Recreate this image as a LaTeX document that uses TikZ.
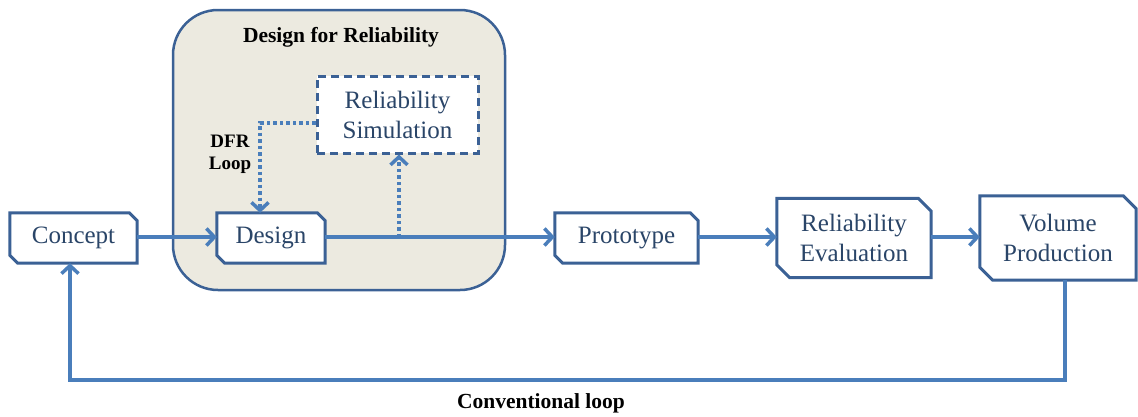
\documentclass[tikz,border=0pt]{standalone}
\usepackage{fontspec}
\setmainfont{Liberation Serif}[BoldFont={Liberation Serif Bold},ItalicFont={Liberation Serif Italic}]
\usetikzlibrary{arrows.meta,calc}
\definecolor{conn}{HTML}{4A7EBB}
\definecolor{boxln}{HTML}{3B6195}
\definecolor{txt}{HTML}{2A4568}
\definecolor{dfrfill}{HTML}{ECEAE0}
\pgfdeclarelayer{bg}
\pgfdeclarelayer{mid}
\pgfsetlayers{bg,mid,main}
\tikzset{
  snip/.style={draw=none,inner sep=0pt,align=center,text=txt,
    font=\fontsize{25}{30}\selectfont},
  snipline/.style={draw=boxln,line width=3pt,fill=white,line join=miter},
  flow/.style={draw=conn,line width=3.5pt,-{Straight Barb[length=8pt,width=17pt]}},
  dots/.style={draw=conn,line width=3.5pt,dash pattern=on 3.5pt off 3pt,
    -{Straight Barb[length=8pt,width=17pt]}},
  boldlbl/.style={font=\bfseries\fontsize{21.5}{26}\selectfont,text=black},
}
\newcommand{\snipdraw}[2]{%
  \draw[snipline] (#1.north west) -- ([xshift=-#2pt]#1.north east) -- ([yshift=-#2pt]#1.north east)
    -- (#1.south east) -- ([xshift=#2pt]#1.south west) -- ([yshift=#2pt]#1.south west) -- cycle;}
\begin{document}
\begin{tikzpicture}[x=1pt,y=-1pt]
\useasboundingbox (0,0) rectangle (1138,416);
% boxes
\node[snip,minimum width=127pt,minimum height=50pt] (C) at (73.5,238) {Concept};
\node[snip,minimum width=108pt,minimum height=50pt] (D) at (271,238) {Design};
\node[snip,minimum width=143pt,minimum height=50pt] (P) at (626.5,238) {Prototype};
\node[snip,minimum width=154pt,minimum height=79pt] (E) at (854,238) {Reliability\\Evaluation};
\node[snip,minimum width=156pt,minimum height=84pt] (V) at (1058,238) {Volume\\Production};
\begin{pgfonlayer}{bg}
% DFR container
\node[draw=boxln,line width=2.5pt,fill=dfrfill,rounded corners=45pt,
  minimum width=332pt,minimum height=280pt,inner sep=0pt] (dfr) at (339,150) {};
\end{pgfonlayer}
\node[boldlbl] (dfrt) at (341,37) {Design for Reliability};
\node[draw=boxln,line width=3pt,dash pattern=on 8pt off 5pt,fill=white,
  minimum width=161pt,minimum height=77pt,inner sep=0pt,align=center,text=txt,
  font=\fontsize{25}{30}\selectfont] (S) at (397.5,114.5) {Reliability\\Simulation};
\begin{pgfonlayer}{mid}
\snipdraw{C}{8}
\snipdraw{D}{8}
\snipdraw{P}{8}
\snipdraw{E}{13}
\snipdraw{V}{13}
\end{pgfonlayer}
% main flow
\draw[flow] (C.east |- 0,237) -- (D.west |- 0,237);
\draw[flow] (D.east |- 0,237) -- (P.west |- 0,237);
\draw[flow] (P.east |- 0,237) -- (E.west |- 0,237);
\draw[flow] (E.east |- 0,237) -- (V.west |- 0,237);
% dotted loops
\coordinate (tap) at (399,237);
\coordinate (dc) at (260,123);
\draw[dots] (tap) -- (tap |- S.south);
\draw[dots] (S.west |- dc) -- (dc) -- (dc |- D.north);
\node[font=\bfseries\fontsize{19}{22}\selectfont,align=center] (dfrl) at (230,154) {DFR\\Loop};
% conventional loop
\coordinate (lr) at (1065,380);
\coordinate (ll) at (70,380);
\draw[flow,line join=miter] (V.south -| lr) -- (lr) -- (ll) -- (ll |- C.south);
\node[boldlbl] (cl) at (541,403) {Conventional loop};
\end{tikzpicture}
\end{document}
